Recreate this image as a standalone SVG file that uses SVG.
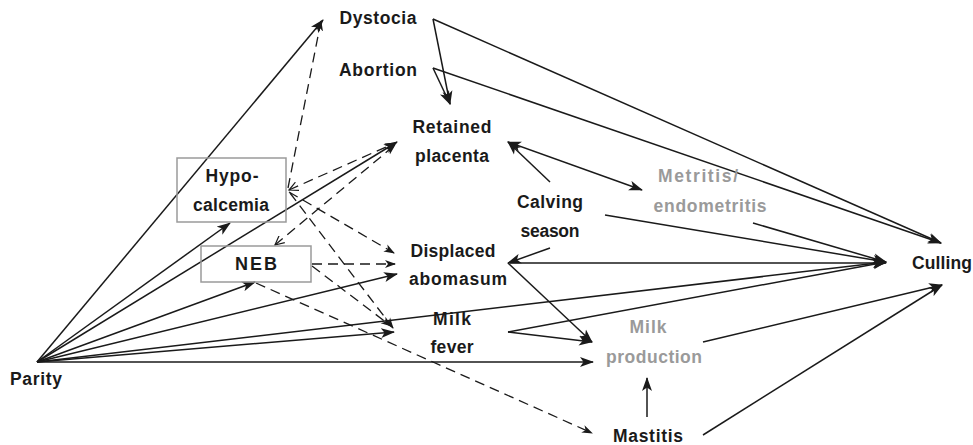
<svg xmlns="http://www.w3.org/2000/svg" width="973" height="445" viewBox="0 0 973 445">
<defs>
<style>
.t{font-family:"Liberation Sans",Arial,sans-serif;font-weight:bold;font-size:17.5px;fill:#1a1a1a;text-anchor:middle}
.g{fill:#9a9a9a}
.box{fill:none;stroke:#9a9a9a;stroke-width:1.5}
.e{fill:none;stroke:#1a1a1a;stroke-width:1.5}
.s{marker-end:url(#ah)}
.d{stroke-dasharray:10 6;stroke-width:1.3}
.dm{marker-end:url(#dh)}
</style>
<marker id="ah" markerUnits="userSpaceOnUse" markerWidth="14" markerHeight="11" refX="13" refY="5" orient="auto-start-reverse" viewBox="0 0 14 10">
<path d="M0,0 L14,5 L0,10 L3.5,5 z" fill="#1a1a1a"/>
</marker>
<marker id="dh" markerUnits="userSpaceOnUse" markerWidth="11" markerHeight="9" refX="10" refY="4" orient="auto-start-reverse" viewBox="0 0 11 8">
<path d="M0,0 L11,4 L0,8 L3,4 z" fill="#1a1a1a"/>
</marker>
<marker id="ov" markerUnits="userSpaceOnUse" markerWidth="11" markerHeight="10" refX="9" refY="4.5" orient="auto-start-reverse" viewBox="0 0 11 9">
<path d="M0,0 L9,4.5 L0,9" fill="none" stroke="#1a1a1a" stroke-width="1.2"/>
</marker>
</defs>
<rect width="973" height="445" fill="#ffffff"/>

<g id="connectors">
<!-- Parity -->
<line class="e s" x1="37" y1="362" x2="323" y2="20"/>
<line class="e s" x1="37" y1="362" x2="230" y2="223"/>
<line class="e s" x1="37" y1="362" x2="397" y2="142"/>
<line class="e s" x1="37" y1="362" x2="255" y2="282"/>
<line class="e s" x1="37" y1="362" x2="397" y2="274"/>
<line class="e s" x1="37" y1="362" x2="886" y2="262"/>
<line class="e s" x1="37" y1="362" x2="394" y2="332"/>
<line class="e s" x1="37" y1="362" x2="593" y2="362"/>
<!-- Dystocia / Abortion -->
<line class="e s" x1="433" y1="19" x2="450" y2="104"/>
<line class="e s" x1="433" y1="68" x2="450" y2="104"/>
<line class="e s" x1="433" y1="19" x2="941" y2="243"/>
<line class="e s" x1="433" y1="68" x2="941" y2="243"/>
<!-- Retained placenta / Metritis / Calving -->
<line class="e s" x1="508" y1="142" x2="642" y2="190" style="marker-start:url(#ah)"/>
<line class="e s" x1="550" y1="182" x2="508" y2="142"/>
<line class="e s" x1="605" y1="215" x2="886" y2="262"/>
<line class="e s" x1="753" y1="223" x2="886" y2="262"/>
<line class="e s" x1="550" y1="248" x2="508" y2="263"/>
<!-- Displaced abomasum -->
<line class="e s" x1="510" y1="263" x2="886" y2="263"/>
<line class="e s" x1="508" y1="263" x2="592" y2="342"/>
<!-- Milk fever -->
<line class="e s" x1="508" y1="332" x2="592" y2="342"/>
<line class="e s" x1="508" y1="332" x2="886" y2="262"/>
<!-- Milk production / Mastitis -->
<line class="e s" x1="703" y1="342" x2="942" y2="285"/>
<line class="e s" x1="703" y1="435" x2="942" y2="285"/>
<line class="e s" x1="647" y1="417" x2="647" y2="378"/>
<!-- dashed -->
<line class="e d dm" x1="288" y1="188" x2="321" y2="21"/>
<line class="e d" x1="289" y1="190" x2="395" y2="143" style="marker-start:url(#ov);marker-end:url(#dh)"/>
<line class="e d" x1="275" y1="245" x2="395" y2="145" style="marker-start:url(#ov);marker-end:url(#dh)"/>
<line class="e d dm" x1="289" y1="192" x2="394" y2="253"/>
<line class="e d dm" x1="290" y1="193" x2="393" y2="328"/>
<line class="e d dm" x1="312" y1="264" x2="395" y2="264"/>
<line class="e d dm" x1="312" y1="266" x2="391" y2="326"/>
<line class="e d dm" x1="256" y1="283" x2="592" y2="433"/>
</g>

<g id="parity"><text class="t" x="36" y="385" textLength="52">Parity</text></g>
<g id="dystocia"><text class="t" x="378" y="24" textLength="77">Dystocia</text></g>
<g id="abortion"><text class="t" x="378" y="76" textLength="78">Abortion</text></g>
<g id="retained-placenta">
<text class="t" x="452" y="133" textLength="79">Retained</text>
<text class="t" x="452" y="162" textLength="74">placenta</text>
</g>
<g id="hypocalcemia">
<rect class="box" x="177" y="158" width="109" height="64"/>
<text class="t" x="232" y="182" textLength="53">Hypo-</text>
<text class="t" x="231" y="211" textLength="76">calcemia</text>
</g>
<g id="neb">
<rect class="box" x="201" y="246" width="110" height="36"/>
<text class="t" x="256" y="270" style="font-size:18px" textLength="42">NEB</text>
</g>
<g id="calving-season">
<text class="t" x="550" y="208" textLength="66">Calving</text>
<text class="t" x="550" y="237" textLength="59">season</text>
</g>
<g id="metritis">
<text class="t g" x="698" y="182" textLength="80">Metritis/</text>
<text class="t g" x="710" y="212" textLength="113">endometritis</text>
</g>
<g id="displaced-abomasum">
<text class="t" x="453" y="257" textLength="85">Displaced</text>
<text class="t" x="458" y="285" textLength="98">abomasum</text>
</g>
<g id="milk-fever">
<text class="t" x="452" y="325" textLength="38">Milk</text>
<text class="t" x="452" y="353" textLength="43">fever</text>
</g>
<g id="milk-production">
<text class="t g" x="648" y="333" textLength="37">Milk</text>
<text class="t g" x="654" y="363" textLength="96">production</text>
</g>
<g id="mastitis"><text class="t" x="648" y="442" textLength="70">Mastitis</text></g>
<g id="culling"><text class="t" x="942" y="269" textLength="60">Culling</text></g>
</svg>
